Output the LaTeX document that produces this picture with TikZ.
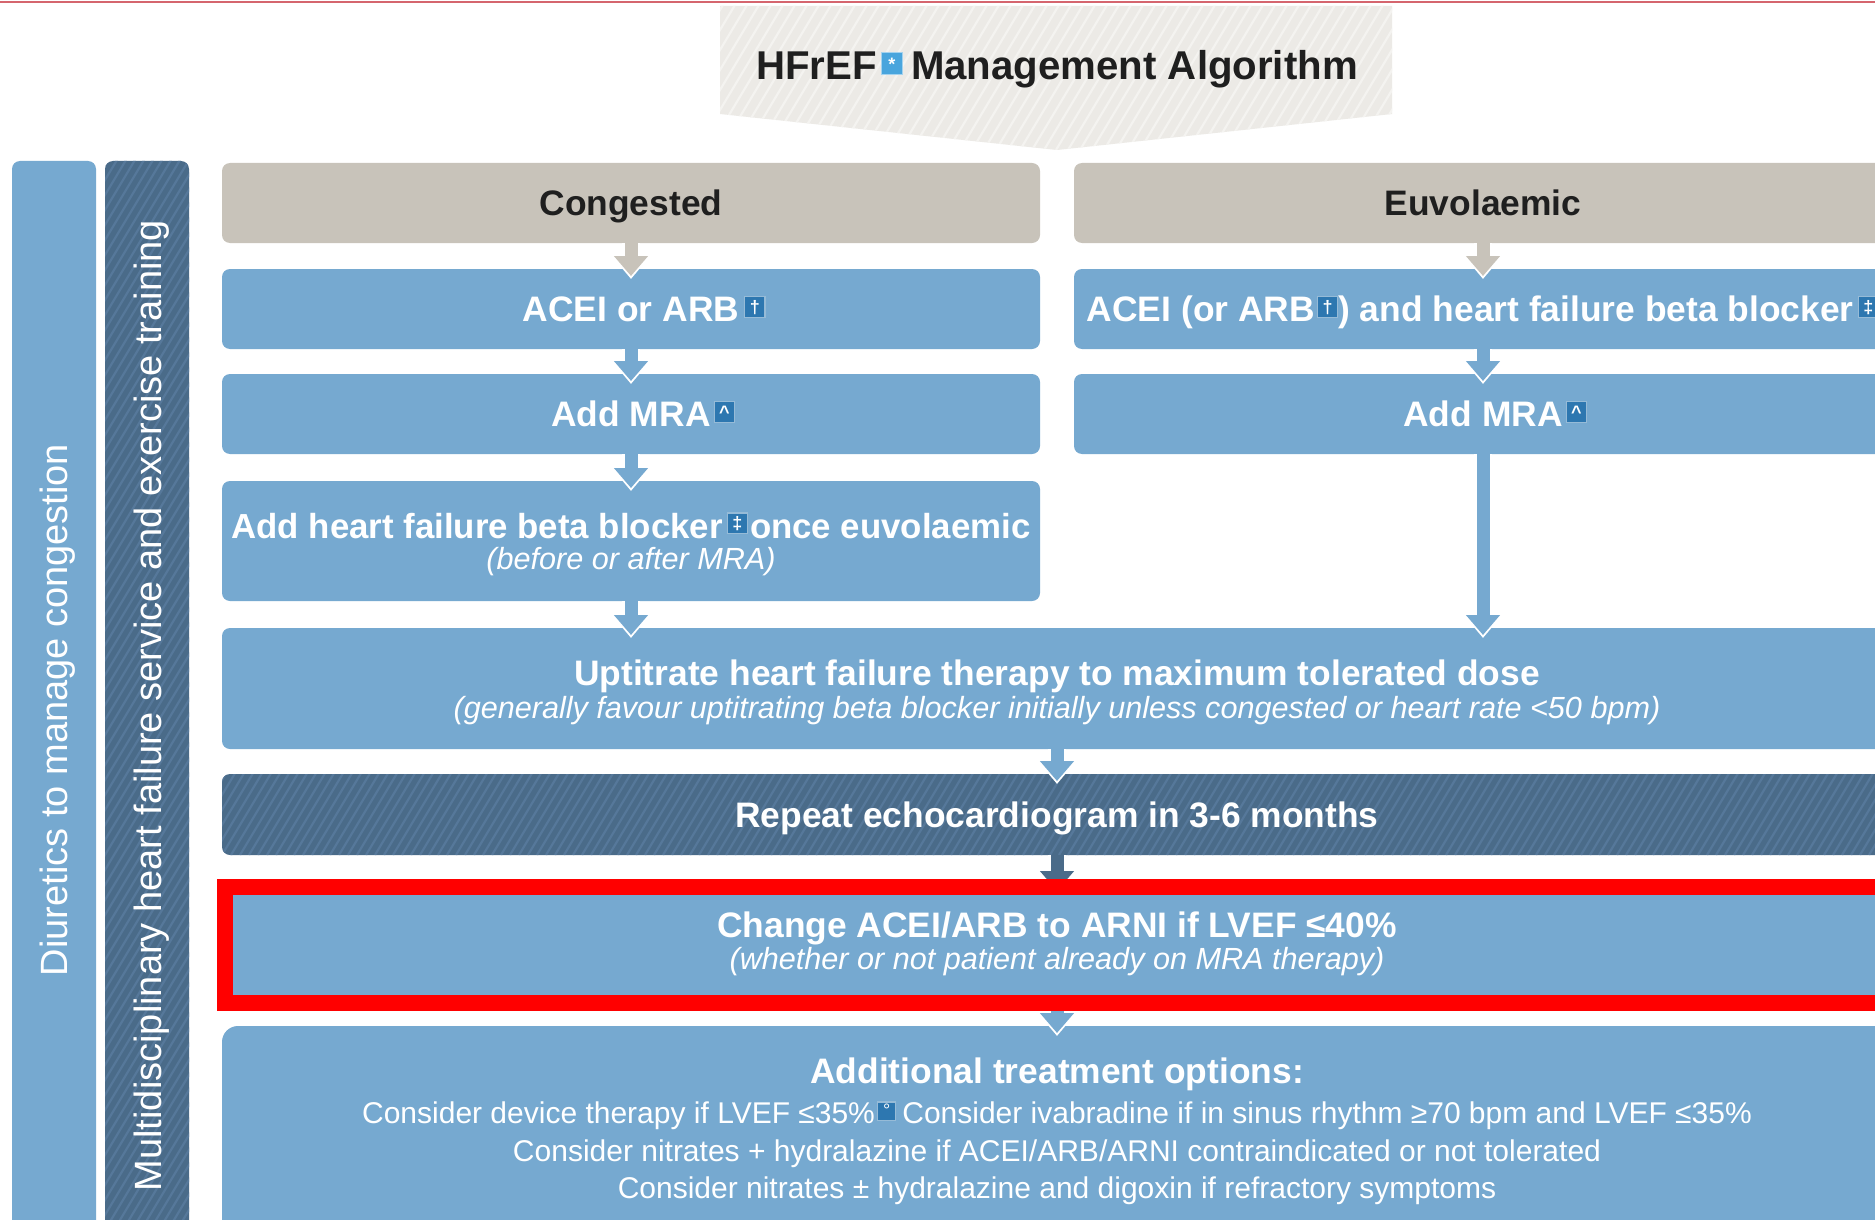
\documentclass[tikz,border=0pt]{standalone}
\usepackage{fontspec}
\setmainfont{Liberation Sans}
\usetikzlibrary{arrows.meta,calc}
\definecolor{boxblue}{HTML}{76A9D0}
\definecolor{dkblue}{HTML}{4A6B89}
\definecolor{dkstripe}{HTML}{56789A}
\definecolor{headgray}{HTML}{C8C3BA}
\definecolor{bannergray}{HTML}{ECEAE6}
\definecolor{bannerstripe}{HTML}{F4F3F0}
\definecolor{fnblue}{HTML}{2D77B0}
\definecolor{fnlight}{HTML}{49A5DD}
\definecolor{inkblack}{HTML}{1F1F1F}
\definecolor{topred}{HTML}{D5656E}
\definecolor{hlred}{HTML}{FF0000}
% footnote marker: colour, raise, inner width, inner height, symbol
\newcommand{\fnbox}[5]{\raisebox{#2}{\setlength{\fboxsep}{1pt}\setlength{\fboxrule}{0.6pt}\fcolorbox{white!50!#1}{#1}{\makebox[#3]{\rule{0pt}{#4}\fontsize{9}{9}\selectfont\color{white}\raisebox{0.6pt}[0pt][0pt]{#5}}}}}
\newcommand{\fnb}[1]{\fnbox{fnblue}{3.6pt}{7.5pt}{7.6pt}{#1}}
\newcommand{\fnt}[1]{\fnbox{fnlight}{4.2pt}{8pt}{8.4pt}{#1}}
\newcommand{\fns}[1]{\fnbox{fnblue}{2.6pt}{6.5pt}{6.6pt}{#1}}
\newcommand{\conn}[3]{\draw[arrw] (#1) -- (#2); \draw[arr=#3] (#1) -- (#2);}
\begin{document}
\begin{tikzpicture}[x=0.5pt,y=-0.5pt,
  every node/.style={inner sep=0pt,outer sep=0pt},
  hatch/.style n args={4}{path picture={
     \foreach \k in {#2,...,#3}{
       \draw[#1,line width=1.1pt] ($(path picture bounding box.south west)+(\k*#4,0)$) -- ++(660,-1100);
     }}},
  headbox/.style={fill=headgray,rounded corners=4pt,minimum width=409pt,minimum height=40pt},
  colbox/.style={fill=boxblue,rounded corners=4pt,minimum width=409pt,minimum height=40pt},
  widebox/.style={fill=boxblue,rounded corners=4pt,minimum width=835pt},
  titletxt/.style={text=inkblack,font=\bfseries\fontsize{20.1}{24}\selectfont},
  headtxt/.style={text=inkblack,font=\bfseries\fontsize{17.7}{20}\selectfont,text height=12.7pt,text depth=0pt},
  boldtxt/.style={text=white,font=\bfseries\fontsize{17.7}{20}\selectfont,text height=12.7pt,text depth=0pt},
  linetxt/.style={text=white,font=\bfseries\fontsize{17.7}{20}\selectfont,anchor=base},
  subtxt/.style={text=white,font=\itshape\fontsize{15.3}{18}\selectfont,anchor=base},
  plaintxt/.style={text=white,font=\fontsize{15}{18}\selectfont,anchor=base},
  sidetxt/.style={text=white,font=\fontsize{19}{22}\selectfont,rotate=90,anchor=base},
  arr/.style={draw=#1,line width=6.5pt,-{Triangle[width=16.5pt,length=10pt]},shorten >=-3.5pt},
  arrw/.style={draw=white,line width=9pt,-{Triangle[width=21pt,length=13pt]},shorten >=-5pt}
]
\useasboundingbox (0,0) rectangle (1875,1220);
\clip (0,0) rectangle (1875,1220);
\fill[white] (0,0) rectangle (1875,1220);
\draw[topred,line width=1.2pt] (0,2) -- (1875,2);

% title banner
\path[fill=bannergray,hatch={bannerstripe}{-10}{60}{12}]
  (720,6) -- (1392,6) -- (1392,114) -- (1057,150) -- (720,114) -- cycle;
\node[titletxt,anchor=base] (title) at (1057,80) {HFrEF\hspace{2pt}\fnt{*}\hspace{4pt}Management Algorithm};

% side bars
\node[fill=boxblue,rounded corners=4pt,minimum width=42pt,minimum height=549.5pt] (diur) at (54,710.5) {};
\node[fill=dkblue,rounded corners=4pt,minimum width=42pt,minimum height=549.5pt,hatch={dkstripe}{-75}{12}{9}] (multi) at (147,710.5) {};
\node[sidetxt] (diurtxt) at (68,710) {Diuretics to manage congestion};
\node[sidetxt] (multitxt) at (161,705.5) {Multidisciplinary heart failure service and exercise training};

% headers
\node[headbox,headtxt] (cong) at (631,203) {Congested};
\node[headbox,headtxt] (euv) at (1483,203) {Euvolaemic};

% column boxes
\node[colbox,boldtxt] (acei) at (631,309) {ACEI or ARB\rlap{\hspace{2.5pt}\fnb{†}}};
\node[colbox,boldtxt] (aceiR) at (1483,309) {ACEI (or ARB\hspace{1pt}\fnb{†}) and heart failure beta blocker\hspace{2pt}\fnb{‡}};
\node[colbox,boldtxt] (mra) at (631,414) {Add MRA\rlap{\hspace{1.5pt}\fnb{\textasciicircum}}};
\node[colbox,boldtxt] (mraR) at (1483,414) {Add MRA\rlap{\hspace{1.5pt}\fnb{\textasciicircum}}};
\node[colbox,minimum height=60pt] (bb) at (631,541) {};
\node[linetxt,font=\bfseries\fontsize{17.4}{20}\selectfont] (bbt1) at (631,538) {Add heart failure beta blocker\hspace{2pt}\fnb{‡}\hspace{1pt}once euvolaemic};
\node[subtxt] (bbt2) at (631,569) {(before or after MRA)};

% full width boxes
\node[widebox,minimum height=60.5pt] (upt) at (1057,688.5) {};
\node[linetxt] (uptt1) at (1057,685) {Uptitrate heart failure therapy to maximum tolerated dose};
\node[subtxt] (uptt2) at (1057,718) {(generally favour uptitrating beta blocker initially unless congested or heart rate <50 bpm)};

\node[widebox,fill=dkblue,minimum height=40.5pt,hatch={dkstripe}{-8}{190}{9},boldtxt] (echo) at (1057,814.5) {Repeat echocardiogram in 3-6 months};

\node[widebox,minimum height=60pt] (arni) at (1057,944) {};
\node[linetxt] (arnit1) at (1057,937) {Change ACEI/ARB to ARNI if LVEF ≤40\%};
\node[subtxt] (arnit2) at (1057,969) {(whether or not patient already on MRA therapy)};

\node[widebox,rounded corners=8pt,minimum height=117pt] (addl) at (1057,1143) {};
\node[linetxt] (addlt0) at (1057,1083) {Additional treatment options:};
\node[plaintxt] (addlt1) at (1057,1123) {Consider device therapy if LVEF ≤35\%\hspace{1pt}\fns{°}\hspace{3pt}Consider ivabradine if in sinus rhythm ≥70 bpm and LVEF ≤35\%};
\node[plaintxt] (addlt2) at (1057,1161) {Consider nitrates + hydralazine if ACEI/ARB/ARNI contraindicated or not tolerated};
\node[plaintxt] (addlt3) at (1057,1198) {Consider nitrates ± hydralazine and digoxin if refractory symptoms};

% connectors
\conn{cong.south}{acei.north}{headgray}
\conn{euv.south}{aceiR.north}{headgray}
\conn{acei.south}{mra.north}{boxblue}
\conn{aceiR.south}{mraR.north}{boxblue}
\conn{mra.south}{bb.north}{boxblue}
\conn{bb.south}{bb.south |- upt.north}{boxblue}
\conn{mraR.south}{mraR.south |- upt.north}{boxblue}
\conn{upt.south}{echo.north}{boxblue}
\conn{echo.south}{arni.north}{dkblue}
\conn{arni.south}{addl.north}{boxblue}

% highlight
\node[draw=hlred,line width=8pt,minimum width=837.5pt,minimum height=58pt] (hl) at (1062.5,945) {};
\end{tikzpicture}
\end{document}
